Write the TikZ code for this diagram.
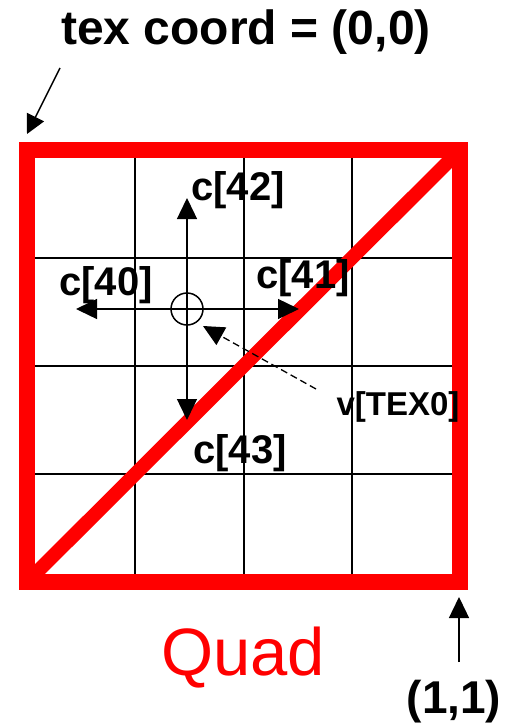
\documentclass[tikz,border=0pt]{standalone}
\usepackage{fontspec}
\setmainfont{Liberation Sans}
\usetikzlibrary{positioning, arrows.meta, calc}

\begin{document}
\begin{tikzpicture}[
    x=1pt, y=-1pt,
    >={Triangle[length=21pt, width=20pt]},
    every node/.style={inner sep=0pt, outer sep=0pt},
    lbl/.style={font=\fontsize{40}{40}\selectfont\bfseries, anchor=base},
    smalllbl/.style={font=\fontsize{33}{33}\selectfont\bfseries, anchor=base},
    grid line/.style={line width=2pt},
    quad/.style={draw=red, line width=16pt},
    diag/.style={red, line width=14pt},
    arrow/.style={->, line width=1.4pt},
    dasharrow/.style={->, line width=1.3pt, dash pattern=on 7pt off 4pt},
]
\useasboundingbox (0,0) rectangle (519,725);

% ── Corners of the quad ──
\coordinate (tl) at (27,150);
\coordinate (br) at (460,582);
\coordinate (bl) at (27,582);
\coordinate (tr) at (460,150);

% ── Grid ──
\foreach \i in {1,2,3} {
  \draw[grid line] ($(tl)!\i/4!(tr)$) -- ($(bl)!\i/4!(br)$);
  \draw[grid line] ($(tl)!\i/4!(bl)$) -- ($(tr)!\i/4!(br)$);
}

% ── Quad outline and diagonal ──
\draw[diag] (bl) -- (tr);
\draw[quad] (tl) rectangle (br);

% ── Sample point ──
\node[draw, circle, line width=1.5pt, minimum size=32pt] (samp) at (187,309) {};

\coordinate (up) at (187,198);
\coordinate (down) at (187,420);
\coordinate (left) at (76,309);
\coordinate (right) at (299,309);

\draw[arrow] (samp.center) -- (up);
\draw[arrow] (samp.center) -- (down);
\draw[arrow] (samp.center) -- (left);
\draw[arrow] (samp.center) -- (right);

% ── Labels ──
\node[lbl] (c42) at (238,200) {c[42]};
\node[lbl] (c40) at (106,295) {c[40]};
\node[lbl] (c41) at (303,288) {c[41]};
\node[lbl] (c43) at (240,463) {c[43]};
\node[smalllbl] (tex0) at (398,415) {v[TEX0]};

\coordinate (tex0tail) at (316,389);
\coordinate (tex0tip) at (203,326);
\draw[dasharrow] (tex0tail) -- (tex0tip);

% ── Corner annotations ──
\node[font=\fontsize{48}{48}\selectfont\bfseries, anchor=base] (origin) at (246,45) {tex coord = (0,0)};
\coordinate (origtail) at (60,68);
\coordinate (origtip) at (27,134);
\draw[arrow, >={Triangle[length=19pt, width=19pt]}] (origtail) -- (origtip);

\node[font=\fontsize{46}{46}\selectfont\bfseries, anchor=base] (far) at (454,713) {(1,1)};
\coordinate (fartail) at (459,662);
\coordinate (fartip) at (459,597);
\draw[arrow] (fartail) -- (fartip);

\node[red, font=\fontsize{67}{67}\selectfont, anchor=base] (quadlbl) at (243,675) {Quad};

\end{tikzpicture}
\end{document}
